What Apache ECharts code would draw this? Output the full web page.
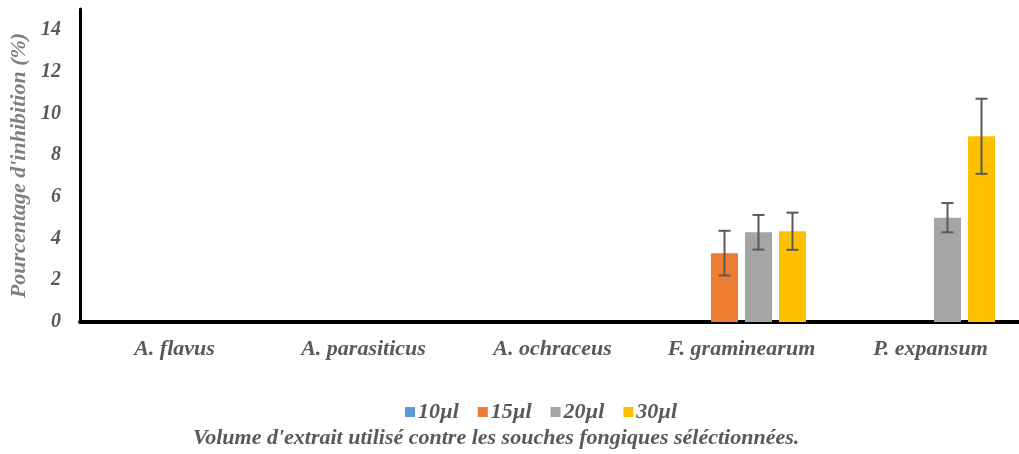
<!DOCTYPE html>
<html>
<head>
<meta charset="utf-8">
<style>
  html, body { margin: 0; padding: 0; background: #ffffff; }
  #chart { width: 1019px; height: 454px; }
</style>
<script src="https://cdn.jsdelivr.net/npm/echarts@6/dist/echarts.min.js"></script>
</head>
<body>
<div id="chart"></div>
<script>
// Fungal strains tested
const categories = ['A. flavus', 'A. parasiticus', 'A. ochraceus', 'F. graminearum', 'P. expansum'];
// Extract volumes
const volumes = ['10µl', '15µl', '20µl', '30µl'];
// Mean inhibition (%) per volume
const v10 = [0, 0, 0, 0, 0];
const v15 = [0, 0, 0, 3.3, 0];
const v20 = [0, 0, 0, 4.3, 5.0];
const v30 = [0, 0, 0, 4.35, 8.9];
// Standard deviations
const e10 = [0, 0, 0, 0, 0];
const e15 = [0, 0, 0, 1.07, 0];
const e20 = [0, 0, 0, 0.83, 0.7];
const e30 = [0, 0, 0, 0.89, 1.8];
// Y-axis ticks
const yTicks = [0, 2, 4, 6, 8, 10, 12, 14];

const colors = ['#5B9BD5', '#ED7D31', '#A5A5A5', '#FFC000'];
const means = [v10, v15, v20, v30];
const errs = [e10, e15, e20, e30];

const BAR_W = 27;
const BAR_GAP = 7;
const textFont = { fontFamily: 'Liberation Serif', fontWeight: 'bold', fontStyle: 'italic', color: '#595959' };

const barSeries = volumes.map((name, i) => ({
  name: name,
  type: 'bar',
  data: means[i],
  barWidth: BAR_W,
  barGap: (BAR_GAP / BAR_W * 100) + '%',
  itemStyle: { color: colors[i] },
  z: 2
}));

// Error bars drawn over each bar series
const errSeries = volumes.map((name, i) => ({
  type: 'custom',
  name: name + ' err',
  z: 5,
  silent: true,
  data: means[i].map((m, k) => [k, m, errs[i][k]]),
  renderItem: function (params, api) {
    const sd = api.value(2);
    if (!sd) return null;
    const k = api.value(0);
    const m = api.value(1);
    const offset = (i - (volumes.length - 1) / 2) * (BAR_W + BAR_GAP);
    const hi = api.coord([k, m + sd]);
    const lo = api.coord([k, m - sd]);
    const x = hi[0] + offset;
    const cap = 6;
    const style = { stroke: '#595959', lineWidth: 2 };
    return {
      type: 'group',
      children: [
        { type: 'line', shape: { x1: x, y1: hi[1], x2: x, y2: lo[1] }, style: style },
        { type: 'line', shape: { x1: x - cap, y1: hi[1], x2: x + cap, y2: hi[1] }, style: style },
        { type: 'line', shape: { x1: x - cap, y1: lo[1], x2: x + cap, y2: lo[1] }, style: style }
      ]
    };
  }
}));

const chart = echarts.init(document.getElementById('chart'));
chart.setOption({
  animation: false,
  backgroundColor: '#ffffff',
  grid: { left: 80, right: -6, top: 9, bottom: 132, containLabel: false, outerBoundsMode: 'none' },
  legend: {
    data: volumes,
    left: 405,
    top: 401,
    padding: 0,
    itemWidth: 10,
    itemHeight: 10,
    itemGap: 19,
    icon: 'rect',
    textStyle: Object.assign({ fontSize: 22, padding: [0, 0, 0, -2] }, textFont)
  },
  xAxis: {
    type: 'category',
    data: categories,
    axisLine: { lineStyle: { color: '#000000', width: 4 } },
    axisTick: { show: false },
    axisLabel: Object.assign({ fontSize: 22, margin: 16, interval: 0, hideOverlap: false }, textFont),
    splitLine: { show: false }
  },
  yAxis: {
    type: 'value',
    min: yTicks[0],
    max: 15,
    interval: yTicks[1] - yTicks[0],
    name: "Pourcentage d'inhibition (%)",
    nameLocation: 'middle',
    nameGap: 48,
    nameRotate: 90,
    nameTextStyle: Object.assign({ fontSize: 22 }, textFont, { color: '#7f7f7f' }),
    axisLine: { show: true, lineStyle: { color: '#000000', width: 3 } },
    axisTick: { show: false },
    splitLine: { show: false },
    axisLabel: Object.assign({
      fontSize: 20,
      margin: 19,
      showMaxLabel: false,
      formatter: v => (yTicks.indexOf(v) >= 0 ? String(v) : '')
    }, textFont)
  },
  graphic: [{
    type: 'text',
    left: 193,
    top: 427,
    style: {
      text: "Volume d'extrait utilisé contre les souches fongiques séléctionnées.",
      fill: '#595959',
      font: "italic bold 22px 'Liberation Serif'"
    }
  }],
  series: barSeries.concat(errSeries)
});
</script>
</body>
</html>
